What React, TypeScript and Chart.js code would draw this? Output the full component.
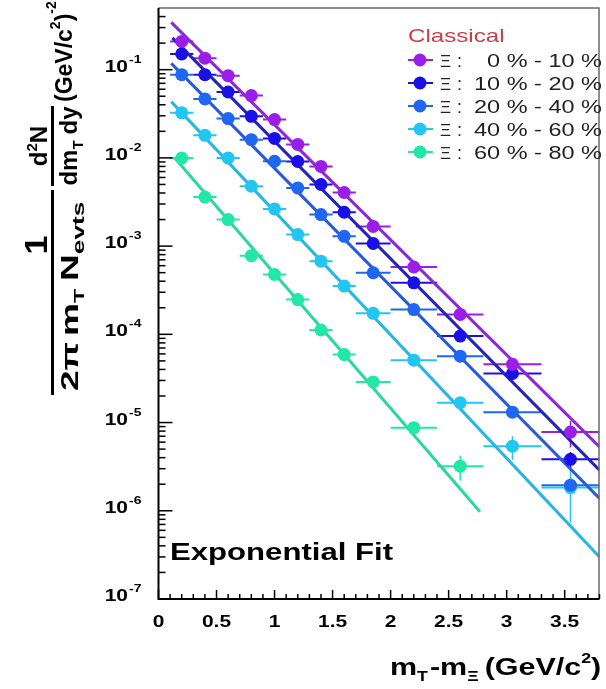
import React, { useEffect, useRef } from 'react';
import { Chart, registerables } from 'chart.js';

Chart.register(...registerables);

const W = 606;
const H = 689;

// ---- data ----
const mtBins = [0.2, 0.4, 0.6, 0.8, 1.0, 1.2, 1.4, 1.6, 1.85, 2.2, 2.6, 3.05, 3.55];
const mtHalfWidth = [0.1, 0.1, 0.1, 0.1, 0.1, 0.1, 0.1, 0.1, 0.15, 0.2, 0.2, 0.25, 0.25];

const centralityLabels = ['0 % - 10 %', '10 % - 20 %', '20 % - 40 %', '40 % - 60 %', '60 % - 80 %'];

const yield0_10 = [0.209, 0.135, 0.0855, 0.0508, 0.0272, 0.0142, 0.008, 0.00405, 0.00167, 5.8e-4, 1.68e-4, 4.57e-5, 7.8e-6];
const yield10_20 = [0.151, 0.0878, 0.0558, 0.0296, 0.0166, 9.1e-3, 4.99e-3, 2.42e-3, 1.07e-3, 3.84e-4, 9.55e-5, 3.6e-5, 3.83e-6];
const yield20_40 = [0.0878, 0.0466, 0.0279, 0.0161, 9.16e-3, 4.57e-3, 2.28e-3, 1.29e-3, 4.99e-4, 1.91e-4, 5.66e-5, 1.31e-5, 1.95e-6];
const yield40_60 = [0.0324, 0.018, 0.01, 4.77e-3, 2.64e-3, 1.35e-3, 6.75e-4, 3.52e-4, 1.73e-4, 5.1e-5, 1.68e-5, 5.4e-6, 1.83e-6];
const yield60_80 = [9.95e-3, 3.6e-3, 2.0e-3, 7.8e-4, 4.77e-4, 2.48e-4, 1.12e-4, 5.9e-5, 2.89e-5, 8.75e-6, 3.2e-6];

const err0_10 = [0.008, 0.005, 0.003, 0.002, 0.001, 5e-4, 3e-4, 1.5e-4, 7e-5, 3e-5, 1e-5, 4e-6, 2.6e-6];
const err10_20 = [0.006, 0.003, 0.002, 0.001, 6e-4, 3e-4, 2e-4, 1e-4, 4e-5, 2e-5, 6e-6, 3e-6, 8e-7];
const err20_40 = [0.003, 0.002, 1e-3, 6e-4, 3e-4, 2e-4, 1e-4, 5e-5, 2e-5, 1e-5, 4e-6, 1.2e-6, 4e-7];
const err40_60 = [1e-3, 6e-4, 4e-4, 2e-4, 1e-4, 5e-5, 3e-5, 1.5e-5, 8e-6, 3e-6, 1.5e-6, 1.6e-6, 1.1e-6];
const err60_80 = [4e-4, 1.5e-4, 8e-5, 3e-5, 2e-5, 1e-5, 5e-6, 3e-6, 1.5e-6, 1e-6, 1.0e-6];

// exponential fit lines (end points)
const fitX0_10 = [0.11, 3.8];
const fitY0_10 = [0.344, 5.3e-6];
const fitX10_20 = [0.12, 3.8];
const fitY10_20 = [0.229, 2.89e-6];
const fitX20_40 = [0.11, 3.8];
const fitY20_40 = [0.118, 1.38e-6];
const fitX40_60 = [0.11, 3.8];
const fitY40_60 = [0.0434, 3.0e-7];
const fitX60_80 = [0.14, 2.77];
const fitY60_80 = [9.97e-3, 9.75e-7];

const xTickValues = [0, 0.5, 1, 1.5, 2, 2.5, 3, 3.5];
const xTickLabels = ['0', '0.5', '1', '1.5', '2', '2.5', '3', '3.5'];
const yTickExponents = [-1, -2, -3, -4, -5, -6, -7];
const yTickExpLabels = ['-1', '-2', '-3', '-4', '-5', '-6', '-7'];

const markerColors = ['#9a1ee8', '#1a10e6', '#1f66f2', '#22c6f2', '#22e8a5'];
const lineColors = ['#8c28d8', '#2424b8', '#2a5ad8', '#28b6e2', '#2ad89e'];

const series = [
  { label: centralityLabels[0], y: yield0_10, err: err0_10, fx: fitX0_10, fy: fitY0_10 },
  { label: centralityLabels[1], y: yield10_20, err: err10_20, fx: fitX10_20, fy: fitY10_20 },
  { label: centralityLabels[2], y: yield20_40, err: err20_40, fx: fitX20_40, fy: fitY20_40 },
  { label: centralityLabels[3], y: yield40_60, err: err40_60, fx: fitX40_60, fy: fitY40_60 },
  { label: centralityLabels[4], y: yield60_80, err: err60_80, fx: fitX60_80, fy: fitY60_80 },
];

const SX = 1.27;
const FONT = '"Liberation Sans", Arial, sans-serif';

type Run = { t: string; size: number; bold?: boolean; dy?: number; gap?: number };

function runsWidth(ctx: CanvasRenderingContext2D, runs: Run[], sx: number) {
  let w = 0;
  for (const r of runs) {
    ctx.font = `${r.bold ? 'bold ' : ''}${r.size}px ${FONT}`;
    w += ctx.measureText(r.t).width * sx + (r.gap || 0);
  }
  return w;
}

function drawRuns(ctx: CanvasRenderingContext2D, runs: Run[], x: number, y: number, sx: number, sy = 1) {
  let cx = x;
  ctx.textAlign = 'left';
  ctx.textBaseline = 'alphabetic';
  for (const r of runs) {
    ctx.font = `${r.bold ? 'bold ' : ''}${r.size}px ${FONT}`;
    const w = ctx.measureText(r.t).width * sx;
    ctx.save();
    ctx.translate(cx, y + (r.dy || 0) * sy);
    ctx.scale(sx, sy);
    ctx.fillText(r.t, 0, 0);
    ctx.restore();
    cx += w + (r.gap || 0);
  }
  return cx - x;
}

const decorPlugin = {
  id: 'decor',
  beforeDatasetsDraw(chart: any) {
    const ctx: CanvasRenderingContext2D = chart.ctx;
    const xs = chart.scales.x;
    const ys = chart.scales.y;
    const ca = chart.chartArea;
    ctx.save();
    ctx.beginPath();
    ctx.rect(ca.left, ca.top, ca.right - ca.left, ca.bottom - ca.top);
    ctx.clip();
    series.forEach((s, i) => {
      ctx.strokeStyle = markerColors[i];
      s.y.forEach((v, k) => {
        const px = xs.getPixelForValue(mtBins[k]);
        const py = ys.getPixelForValue(v);
        const x0 = xs.getPixelForValue(mtBins[k] - mtHalfWidth[k]);
        const x1 = xs.getPixelForValue(mtBins[k] + mtHalfWidth[k]);
        ctx.lineWidth = 2;
        ctx.beginPath();
        ctx.moveTo(x0, py);
        ctx.lineTo(x1, py);
        ctx.stroke();
        const yl = ys.getPixelForValue(Math.max(v - s.err[k], 1e-9));
        const yh = ys.getPixelForValue(v + s.err[k]);
        ctx.lineWidth = 1.5;
        ctx.beginPath();
        ctx.moveTo(px, yh);
        ctx.lineTo(px, yl);
        ctx.stroke();
      });
    });
    ctx.restore();
  },
  afterDraw(chart: any) {
    const ctx: CanvasRenderingContext2D = chart.ctx;
    const xs = chart.scales.x;
    const ys = chart.scales.y;
    const ca = chart.chartArea;
    ctx.save();

    // frame
    ctx.strokeStyle = '#6a6a6a';
    ctx.lineWidth = 1.5;
    ctx.beginPath();
    ctx.moveTo(ca.left, ca.top);
    ctx.lineTo(ca.right - 0.5, ca.top);
    ctx.lineTo(ca.right - 0.5, ca.bottom);
    ctx.stroke();
    ctx.strokeStyle = '#000';
    ctx.lineWidth = 2;
    ctx.beginPath();
    ctx.moveTo(ca.left, ca.top);
    ctx.lineTo(ca.left, ca.bottom);
    ctx.lineTo(ca.right, ca.bottom);
    ctx.stroke();

    // y ticks
    ctx.lineWidth = 1.5;
    const yMax = ys.max;
    for (let d = -7; d <= -1; d++) {
      for (let m = 1; m <= 9; m++) {
        const v = m * Math.pow(10, d);
        if (v > yMax * 0.999) continue;
        const py = ys.getPixelForValue(v);
        const len = m === 1 ? 14 : 7;
        ctx.beginPath();
        ctx.moveTo(ca.left, py);
        ctx.lineTo(ca.left + len, py);
        ctx.stroke();
      }
    }
    // x ticks
    for (let k = 0; k <= 38; k++) {
      const v = k / 10;
      const px = xs.getPixelForValue(v);
      const len = k % 5 === 0 ? 9 : 5;
      ctx.beginPath();
      ctx.moveTo(px, ca.bottom);
      ctx.lineTo(px, ca.bottom - len);
      ctx.stroke();
    }

    ctx.fillStyle = '#000';
    // y tick labels
    yTickExponents.forEach((e, i) => {
      const py = ys.getPixelForValue(Math.pow(10, e));
      const base: Run[] = [{ t: '10', size: 16.5, bold: true }];
      const w = runsWidth(ctx, base, SX);
      drawRuns(ctx, base, 128 - w, py + 2, SX);
      drawRuns(ctx, [{ t: yTickExpLabels[i], size: 11, bold: true }], 129, py - 7, SX);
    });
    // x tick labels
    xTickValues.forEach((v, i) => {
      const px = xs.getPixelForValue(v);
      const r: Run[] = [{ t: xTickLabels[i], size: 16.5, bold: true }];
      const w = runsWidth(ctx, r, SX);
      drawRuns(ctx, r, px - w / 2, 627, SX);
    });

    // x title
    drawRuns(
      ctx,
      [
        { t: 'm', size: 24, bold: true },
        { t: 'T', size: 14, bold: true, dy: 6, gap: 2 },
        { t: '-m', size: 24, bold: true },
        { t: 'Ξ', size: 14, bold: true, dy: 6, gap: 6 },
        { t: '(GeV/c', size: 24, bold: true },
        { t: '2', size: 14, bold: true, dy: -12 },
        { t: ')', size: 24, bold: true },
      ],
      390,
      675,
      SX
    );

    // y title (rotated): local u = 400 - imageY, v = imageX
    ctx.save();
    ctx.translate(0, 400);
    ctx.rotate(-Math.PI / 2);
    // first fraction: 1 / (2π m_T N_evts)
    const den1: Run[] = [
      { t: '2π', size: 24, bold: true, gap: 6 },
      { t: 'm', size: 24, bold: true },
      { t: 'T', size: 15, bold: true, dy: 6, gap: 8 },
      { t: 'N', size: 24, bold: true },
      { t: 'evts', size: 17, bold: true, dy: 6 },
    ];
    const f1Start = 5;
    const f1Len = 205;
    const den1Nat = runsWidth(ctx, den1, 1);
    const along1 = (f1Len - 8) / den1Nat;
    ctx.fillRect(f1Start, 51, f1Len, 3);
    drawRuns(ctx, den1, f1Start + 4, 78, along1, 1);
    const num1: Run[] = [{ t: '1', size: 31, bold: true }];
    const n1W = runsWidth(ctx, num1, 1.1);
    drawRuns(ctx, num1, 155 - n1W / 2, 47, 1.1, 1);

    // second fraction: d²N / (dm_T dy)
    const den2: Run[] = [
      { t: 'dm', size: 24, bold: true },
      { t: 'T', size: 15, bold: true, dy: 6, gap: 6 },
      { t: 'dy', size: 24, bold: true },
    ];
    const den2W = runsWidth(ctx, den2, 1);
    const f2Start = 214;
    const f2Len = 80;
    ctx.fillRect(f2Start, 51, f2Len, 3);
    drawRuns(ctx, den2, f2Start + f2Len / 2 - den2W / 2, 77, 1, 1);
    const num2: Run[] = [
      { t: 'd', size: 24, bold: true },
      { t: '2', size: 15, bold: true, dy: -10 },
      { t: 'N', size: 24, bold: true },
    ];
    const n2W = runsWidth(ctx, num2, 1);
    drawRuns(ctx, num2, f2Start + f2Len / 2 - n2W / 2, 47, 1, 1);

    // units
    drawRuns(
      ctx,
      [
        { t: '(GeV/c', size: 23, bold: true },
        { t: '2', size: 14, bold: true, dy: -12 },
        { t: ')', size: 23, bold: true },
        { t: '-2', size: 14, bold: true, dy: -16 },
      ],
      298,
      72,
      1,
      1
    );
    ctx.restore();

    // Exponential Fit
    drawRuns(ctx, [{ t: 'Exponential Fit', size: 24.5, bold: true }], 170, 560, SX);

    // legend
    ctx.fillStyle = '#c8404a';
    drawRuns(ctx, [{ t: 'Classical', size: 19 }], 408, 42, SX);
    series.forEach((s, i) => {
      const cy = 60 + i * 23;
      ctx.strokeStyle = markerColors[i];
      ctx.fillStyle = markerColors[i];
      ctx.lineWidth = 2;
      ctx.beginPath();
      ctx.moveTo(408, cy);
      ctx.lineTo(433, cy);
      ctx.stroke();
      ctx.beginPath();
      ctx.arc(420, cy, 6.5, 0, Math.PI * 2);
      ctx.fill();
      ctx.fillStyle = '#222';
      drawRuns(ctx, [{ t: 'Ξ', size: 17 }], 440, cy + 6.5, 1);
      drawRuns(ctx, [{ t: ':', size: 18 }], 457, cy + 6.5, 1);
      const r: Run[] = [{ t: s.label, size: 18.5 }];
      const w = runsWidth(ctx, r, SX);
      drawRuns(ctx, r, 602 - w, cy + 6.5, SX);
    });

    ctx.restore();
  },
};

export default function App() {
  const ref = useRef<HTMLCanvasElement>(null);
  useEffect(() => {
    if (!ref.current) return;
    const datasets: any[] = [];
    series.forEach((s, i) => {
      datasets.push({
        type: 'line',
        data: s.fx.map((x, k) => ({ x, y: s.fy[k] })),
        borderColor: lineColors[i],
        backgroundColor: lineColors[i],
        borderWidth: 3,
        pointRadius: 0,
        fill: false,
        tension: 0,
        order: 2,
      });
    });
    series.forEach((s, i) => {
      datasets.push({
        type: 'scatter',
        data: s.y.map((y, k) => ({ x: mtBins[k], y })),
        backgroundColor: markerColors[i],
        borderColor: markerColors[i],
        borderWidth: 0,
        pointRadius: 6.5,
        pointHoverRadius: 6.5,
        order: 1,
      });
    });
    const chart = new Chart(ref.current, {
      type: 'scatter',
      data: { datasets },
      options: {
        responsive: false,
        animation: false,
        devicePixelRatio: 1,
        events: [],
        layout: { padding: { left: 158.5, right: 1, top: 8, bottom: 90 } },
        plugins: { legend: { display: false }, tooltip: { enabled: false } },
        scales: {
          x: { type: 'linear', min: 0, max: 3.8, display: false },
          y: { type: 'logarithmic', min: 1e-7, max: 0.5, display: false },
        },
      } as any,
      plugins: [decorPlugin],
    });
    return () => chart.destroy();
  }, []);
  return (
    <div style={{ position: 'absolute', left: 0, top: 0, width: W, height: H, background: '#fff' }}>
      <canvas ref={ref} width={W} height={H} style={{ width: W, height: H, display: 'block' }} />
    </div>
  );
}
